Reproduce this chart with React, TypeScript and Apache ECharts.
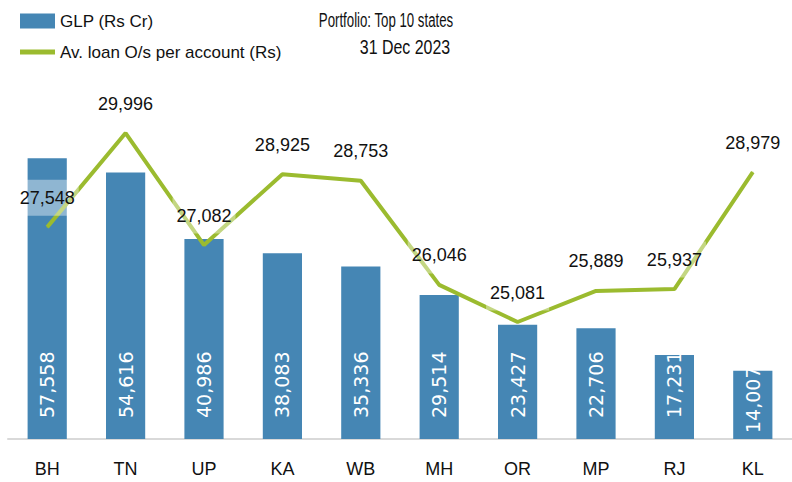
import React, { useEffect, useRef } from "react";
import * as echarts from "echarts";

const categories = ["BH", "TN", "UP", "KA", "WB", "MH", "OR", "MP", "RJ", "KL"];
const glp = [57558, 54616, 40986, 38083, 35336, 29514, 23427, 22706, 17231, 14007];
const avgLoan = [27548, 29996, 27082, 28925, 28753, 26046, 25081, 25889, 25937, 28979];
const seriesNames = ["GLP (Rs Cr)", "Av. loan O/s per account (Rs)"];
const titleLines = ["Portfolio: Top 10 states", "31 Dec 2023"];

const FONT = "'Liberation Sans', Arial, sans-serif";
const fmt = (v: number) => v.toLocaleString("en-US");

export default function App() {
  const ref = useRef<HTMLDivElement>(null);
  useEffect(() => {
    if (!ref.current) return;
    const chart = echarts.init(ref.current, undefined, { renderer: "svg" });
    chart.setOption({
      animation: false,
      backgroundColor: "#ffffff",
      graphic: [
        {
          type: "text",
          x: 386,
          y: 20,
          scaleX: 0.63,
          style: {
            text: titleLines[0],
            fill: "#111",
            font: `21px ${FONT}`,
            textAlign: "center",
            textVerticalAlign: "middle",
          },
        },
        {
          type: "text",
          x: 405,
          y: 47,
          scaleX: 0.76,
          style: {
            text: titleLines[1],
            fill: "#111",
            font: `21px ${FONT}`,
            textAlign: "center",
            textVerticalAlign: "middle",
          },
        },
      ],
      legend: {
        orient: "vertical",
        left: 20,
        top: 10,
        padding: 0,
        itemWidth: 35,
        itemHeight: 15,
        itemGap: 9,
        data: [
          { name: seriesNames[0], icon: "rect" },
          { name: seriesNames[1], icon: "path://M0,0H35V5H0Z" },
        ],
        textStyle: { fontFamily: FONT, fontSize: 17, color: "#111", lineHeight: 22 },
      },
      grid: { left: 8, right: -10, top: 96, bottom: 43 },
      xAxis: {
        type: "category",
        data: categories,
        axisTick: { show: false },
        axisLine: { lineStyle: { color: "#d9d9d9", width: 2 } },
        axisLabel: { fontFamily: FONT, fontSize: 18, color: "#111", margin: 21 },
      },
      yAxis: [
        { type: "value", min: 0, max: 70300, show: false, splitLine: { show: false } },
        { type: "value", min: 22038, max: 30959, show: false, splitLine: { show: false } },
      ],
      series: [
        {
          name: seriesNames[0],
          type: "bar",
          yAxisIndex: 0,
          barWidth: "50%",
          itemStyle: { color: "#4586b4" },
          data: glp.map((v, i) => ({
            value: v,
            label: i === glp.length - 1 ? { distance: 6 } : undefined,
          })),
          label: {
            show: true,
            position: "insideBottom",
            rotate: 90,
            align: "left",
            verticalAlign: "middle",
            distance: 21,
            color: "#ffffff",
            fontFamily: "'DejaVu Sans', sans-serif",
            fontSize: 19,
            formatter: (p: any) => fmt(p.value),
          },
        },
        {
          name: seriesNames[1],
          type: "line",
          yAxisIndex: 1,
          symbol: "circle",
          symbolSize: 1,
          showSymbol: true,
          lineStyle: { color: "#9bbb2f", width: 4 },
          itemStyle: { color: "#9bbb2f" },
          data: avgLoan,
          z: 3,
          label: {
            show: true,
            position: "top",
            distance: 11,
            fontFamily: FONT,
            fontSize: 18,
            lineHeight: 20,
            color: "#111",
            backgroundColor: "rgba(255,255,255,0.4)",
            padding: [8, 4],
            formatter: (p: any) => fmt(p.value),
          },
        },
      ],
    });
    return () => chart.dispose();
  }, []);
  return (
    <div
      ref={ref}
      style={{ position: "fixed", left: 0, top: 0, width: 792, height: 482 }}
    />
  );
}
